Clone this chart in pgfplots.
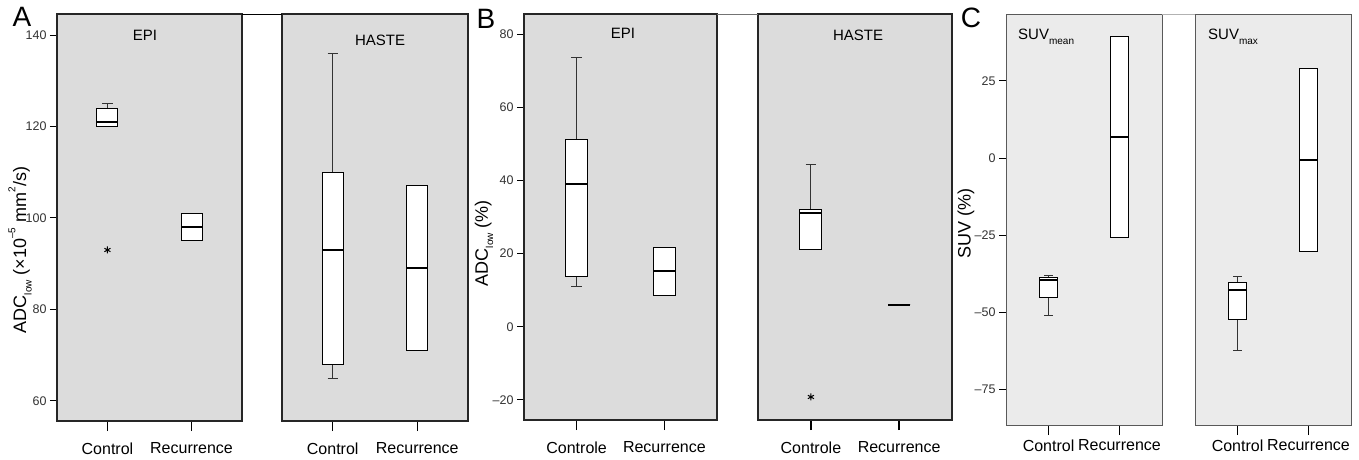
\documentclass[border=0pt]{standalone}
\usepackage{pgfplots}
\pgfplotsset{compat=1.18}
\usepgfplotslibrary{statistics}
\usepackage{fontspec}
\setmainfont{Liberation Sans}
\definecolor{bgA}{HTML}{DCDCDC}
\definecolor{bgC}{HTML}{EBEBEB}
\newcommand\fs[1]{\fontsize{#1}{#1}\selectfont}
\newcommand\sub[1]{\raisebox{-0.3em}{\fs{10}#1}}
\newcommand\sups[1]{\raisebox{0.6em}{\fs{10}#1}}
\pgfplotsset{
 panel/.style={scale only axis, anchor=north west, xmin=0.4, xmax=2.6, xtick={1,2},
   tick align=outside, xtick pos=bottom, ytick pos=left,
   /pgf/number format/assume math mode=true,
   major tick length=7pt,
   xtick style={/pgfplots/major tick length=10pt, line width=1.3pt, black},
   ytick style={line width=1pt, black},
   xticklabel style={font=\fs{16}, yshift=-11pt},
   yticklabel style={font=\fs{12.5}, text=black!80},
   axis line style={line width=1.3pt, black!85},
   axis background/.style={fill=bgA},
   clip=false,
   boxplot/draw direction=y,
   boxplot/box extend=0.25,
   boxplot/whisker extend=0.12,
   boxplot/every box/.style={draw=black, fill=white, line width=1pt},
   boxplot/every whisker/.style={draw=black!80, line width=1pt},
   boxplot/every median/.style={draw=black, line width=2pt},
 },
 bx/.style={draw=black, line width=1pt, mark=asterisk, mark size=3.5pt, mark options={line width=1pt, solid, black}},
}
\begin{document}
\begin{tikzpicture}
\useasboundingbox (0,0) rectangle (1359pt,-459pt);
% ---------- Panel A ----------
\begin{axis}[panel, name=a1, at={(57pt,-14pt)}, width=185pt, height=407pt,
  ymin=55.6, ymax=144.6, ytick={60,80,100,120,140}, yticklabels={60,80,100,120,140}, xticklabels={Control,Recurrence}]
\addplot[bx, boxplot prepared={lower whisker=120, lower quartile=120, median=121, upper quartile=124, upper whisker=125, draw position=1}] coordinates {(1,93)};
\addplot[bx, boxplot prepared={lower whisker=95, lower quartile=95, median=98, upper quartile=101, upper whisker=101, draw position=2}] coordinates {};
\end{axis}
\begin{axis}[panel, name=a2, at={(282pt,-14pt)}, width=186pt, height=407pt,
  ymin=55.6, ymax=144.6, ytick=\empty, xticklabels={Control,Recurrence}]
\addplot[bx, boxplot prepared={lower whisker=65, lower quartile=68, median=93, upper quartile=110, upper whisker=136, draw position=1}] coordinates {};
\addplot[bx, boxplot prepared={lower whisker=71, lower quartile=71, median=89, upper quartile=107, upper whisker=107, draw position=2}] coordinates {};
\end{axis}
\draw[black, line width=1pt] (a1.north east) -- (a2.north west);
% ---------- Panel B ----------
\begin{axis}[panel, name=b1, at={(524pt,-14pt)}, width=193pt, height=406pt,
  ymin=-25.5, ymax=85.5, ytick={-20,0,20,40,60,80}, yticklabels={\textendash20,0,20,40,60,80}, xticklabels={Controle,Recurrence}]
\addplot[bx, boxplot prepared={lower whisker=11.1, lower quartile=13.8, median=38.9, upper quartile=51.3, upper whisker=73.7, draw position=1}] coordinates {};
\addplot[bx, boxplot prepared={lower whisker=8.6, lower quartile=8.6, median=15.2, upper quartile=21.8, upper whisker=21.8, draw position=2}] coordinates {};
\end{axis}
\begin{axis}[panel, name=b2, at={(758pt,-14pt)}, width=194pt, height=406pt,
  ymin=-25.5, ymax=85.5, ytick=\empty, xticklabels={Controle,Recurrence}]
\addplot[bx, boxplot prepared={lower whisker=21, lower quartile=21, median=31, upper quartile=32, upper whisker=44.4, draw position=1}] coordinates {(1,-19.2)};
\addplot[bx, boxplot prepared={lower whisker=6, lower quartile=6, median=6, upper quartile=6, upper whisker=6, draw position=2}] coordinates {};
\end{axis}
\draw[black!55, line width=1pt] (b1.north east) -- (b2.north west);
% ---------- Panel C ----------
\begin{axis}[panel, name=c1, at={(1006pt,-14pt)}, width=156pt, height=411pt,
  axis background/.style={fill=bgC}, axis line style={line width=1pt, black!65},
  ymin=-86.6, ymax=46.7, ytick={-75,-50,-25,0,25}, yticklabels={\textendash75,\textendash50,\textendash25,0,25}, xticklabels={Control,Recurrence},
  xticklabel style={yshift=7pt},
  xtick style={/pgfplots/major tick length=10pt, line width=1pt, black}]
\addplot[bx, boxplot prepared={lower whisker=-51.2, lower quartile=-45.3, median=-39.7, upper quartile=-38.8, upper whisker=-38.2, draw position=1}] coordinates {};
\addplot[bx, boxplot prepared={lower whisker=-25.8, lower quartile=-25.8, median=6.8, upper quartile=39.3, upper whisker=39.3, draw position=2}] coordinates {};
\end{axis}
\begin{axis}[panel, name=c2, at={(1195pt,-14pt)}, width=156pt, height=411pt,
  axis background/.style={fill=bgC}, axis line style={line width=1pt, black!65},
  ymin=-86.6, ymax=46.7, ytick=\empty, xticklabels={Control,Recurrence},
  xticklabel style={yshift=7pt},
  xtick style={/pgfplots/major tick length=10pt, line width=1pt, black}]
\addplot[bx, boxplot prepared={lower whisker=-62.3, lower quartile=-52.5, median=-42.8, upper quartile=-40.5, upper whisker=-38.4, draw position=1}] coordinates {};
\addplot[bx, boxplot prepared={lower whisker=-30.4, lower quartile=-30.4, median=-0.8, upper quartile=28.9, upper whisker=28.9, draw position=2}] coordinates {};
\end{axis}
\draw[black!30, line width=1pt] (c1.north east) -- (c2.north west);
% ---------- texts ----------
\node[font=\fs{28}, inner sep=0pt] at (22pt,-17pt) {A};
\node[font=\fs{28}, inner sep=0pt] at (486pt,-19pt) {B};
\node[font=\fs{28}, inner sep=0pt] at (971pt,-18pt) {C};
\node[font=\fs{15}] at (145pt,-35pt) {EPI};
\node[font=\fs{15}] at (380pt,-40pt) {HASTE};
\node[font=\fs{15}] at (623pt,-33pt) {EPI};
\node[font=\fs{15}] at (858pt,-35pt) {HASTE};
\node[font=\fs{15}, anchor=west, inner sep=0pt] at (1018pt,-37pt) {SUV\sub{mean}};
\node[font=\fs{15}, anchor=west, inner sep=0pt] at (1208pt,-37pt) {SUV\sub{max}};
\node[font=\fs{18}, rotate=90] at (20pt,-250pt) {ADC\sub{low} (×10\sups{\textendash5} mm\sups{2}/s)};
\node[font=\fs{18}, rotate=90] at (484pt,-243pt) {ADC\sub{low} (\%)};
\node[font=\fs{18}, rotate=90] at (966pt,-223pt) {SUV (\%)};
\end{tikzpicture}
\end{document}
